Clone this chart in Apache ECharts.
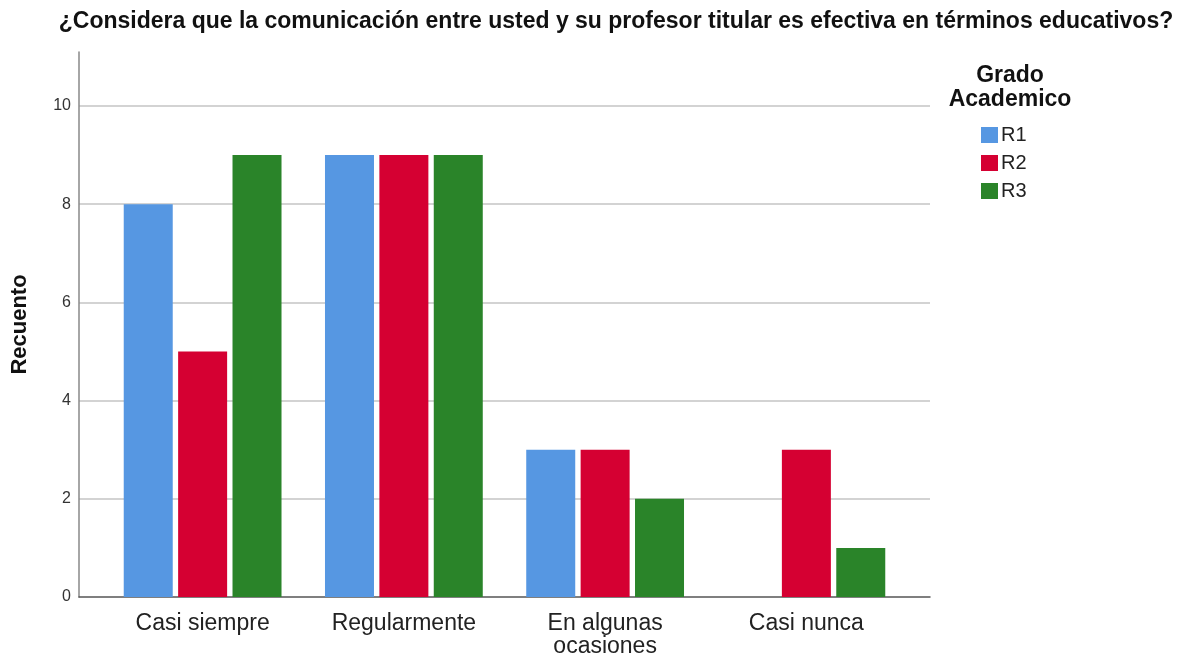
<!DOCTYPE html>
<html>
<head>
<meta charset="utf-8">
<script src="https://cdn.jsdelivr.net/npm/echarts@6/dist/echarts.min.js"></script>
<style>
  html, body { margin: 0; padding: 0; background: #fff; }
  #chart { width: 1199px; height: 660px; }
</style>
</head>
<body>
<div id="chart"></div>
<script>
// categorías del eje x
var categories = ['Casi siempre', 'Regularmente', 'En algunas\nocasiones', 'Casi nunca']
// recuentos por grado académico
var r1 = [8, 9, 3, 0]
var r2 = [5, 9, 3, 3]
var r3 = [9, 9, 2, 1]
var seriesNames = ['R1', 'R2', 'R3']
var colors = ['#5697e2', '#d50032', '#2a8429']
var yMax = 11.1

var font = '"Liberation Sans", Arial, sans-serif'
var chart = echarts.init(document.getElementById('chart'))

function barSeries(name, data) {
  return {
    name: name,
    type: 'bar',
    xAxisIndex: 1,
    yAxisIndex: 1,
    barWidth: 49,
    barGap: '11%',
    data: data
  }
}

chart.setOption({
  animation: false,
  color: colors,
  textStyle: { fontFamily: font },
  title: [{
    text: '¿Considera que la comunicación entre usted y su profesor titular es efectiva en términos educativos?',
    left: 611,
    top: 5,
    textAlign: 'center',
    textStyle: { fontSize: 23, fontWeight: 'bold', color: '#111', fontFamily: font }
  }, {
    text: 'Grado\nAcademico',
    left: 1005,
    top: 59,
    textAlign: 'center',
    textStyle: { fontSize: 23, fontWeight: 'bold', color: '#111', lineHeight: 24, fontFamily: font }
  }],
  legend: {
    orient: 'vertical',
    left: 981,
    top: 125,
    padding: 0,
    itemWidth: 17,
    itemHeight: 16,
    itemGap: 8,
    icon: 'rect',
    data: seriesNames,
    textStyle: { fontSize: 20, color: '#222', fontFamily: font, padding: [0, 0, 0, -2] }
  },
  grid: [
    // marco: ejes y líneas de cuadrícula
    { left: 79, right: 269, top: 52, bottom: 63 },
    // barras
    { left: 102, right: 292, top: 52, bottom: 63 }
  ],
  xAxis: [{
    gridIndex: 0,
    type: 'value',
    min: 0,
    max: 1,
    axisLine: { show: true, lineStyle: { color: '#555', width: 1.5 } },
    axisTick: { show: false },
    axisLabel: { show: false },
    splitLine: { show: false }
  }, {
    gridIndex: 1,
    type: 'category',
    data: categories,
    axisLine: { show: false },
    axisTick: { show: false },
    axisLabel: { fontSize: 23, color: '#222', margin: 15, lineHeight: 23, fontFamily: font }
  }],
  yAxis: [{
    gridIndex: 0,
    type: 'value',
    min: 0,
    max: yMax,
    interval: 2,
    name: 'Recuento',
    nameLocation: 'middle',
    nameGap: 48,
    nameTextStyle: { fontSize: 22, fontWeight: 'bold', color: '#111', fontFamily: font },
    axisLine: { show: true, lineStyle: { color: '#888', width: 1.5 } },
    axisTick: { show: false },
    axisLabel: { fontSize: 16, color: '#333', margin: 8, showMaxLabel: false, fontFamily: font },
    splitLine: { show: true, showMinLine: false, showMaxLine: false, lineStyle: { color: '#c4c4c4', width: 1.5 } }
  }, {
    gridIndex: 1,
    type: 'value',
    min: 0,
    max: yMax,
    show: false,
    splitLine: { show: false }
  }],
  series: [
    barSeries('R1', r1),
    barSeries('R2', r2),
    barSeries('R3', r3)
  ]
})
</script>
</body>
</html>
